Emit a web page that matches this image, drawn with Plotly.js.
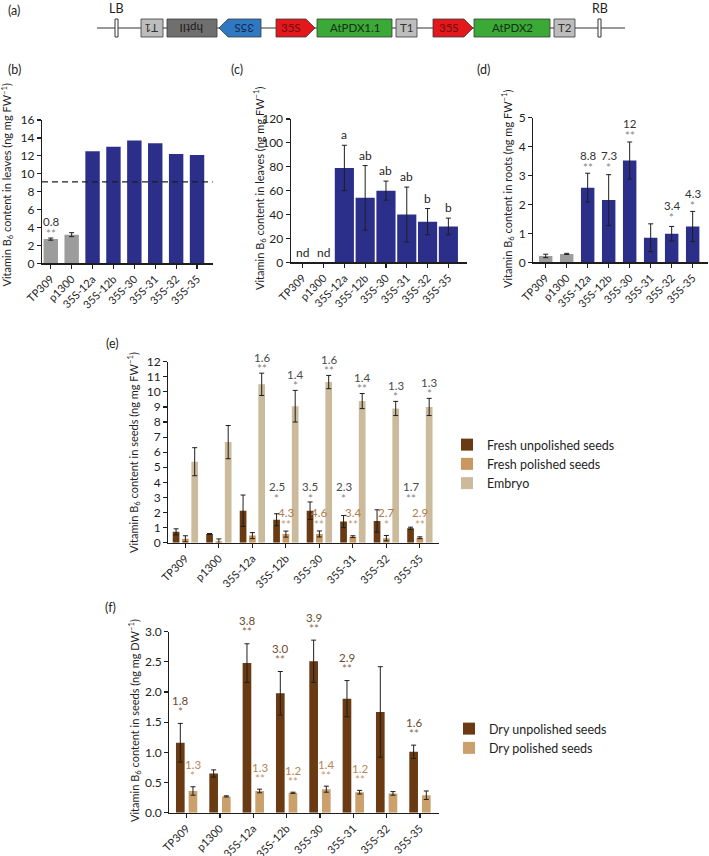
<!DOCTYPE html>
<html>
<head>
<meta charset="utf-8">
<script src="https://cdn.plot.ly/plotly-3.0.1.min.js"></script>
<style>html,body{margin:0;padding:0;background:#fff}</style>
</head>
<body>
<div id="fig" style="width:709px;height:856px"></div>
<script>
const W = 709, H = 856;
const FONT = 'Lato, "Open Sans", sans-serif';
const INK = '#1e1e1e';

const LINES = ['TP309', 'p1300', '35S-12a', '35S-12b', '35S-30', '35S-31', '35S-32', '35S-35'];

// (b) leaves, first assay
const leafB = [2.7, 3.2, 12.5, 13.0, 13.7, 13.4, 12.2, 12.1];
const leafBErr = [0.12, 0.22, null, null, null, null, null, null];
const leafBLine = 9.1;
const leafBFold = ['0.8', '', '', '', '', '', '', ''];
const leafBStars = ['**', '', '', '', '', '', '', ''];

// (c) leaves, second assay
const leafC = [0, 0, 79, 54, 60, 40, 34, 30];
const leafCErr = [null, null, 19, 27, 8, 23, 11, 7];
const leafCLetters = ['nd', 'nd', 'a', 'ab', 'ab', 'ab', 'b', 'b'];

// (d) roots
const roots = [0.22, 0.29, 2.58, 2.15, 3.52, 0.85, 0.99, 1.24];
const rootsErr = [0.06, 0.02, 0.5, 0.88, 0.64, 0.48, 0.25, 0.52];
const rootsFold = ['', '', '8.8', '7.3', '12', '', '3.4', '4.3'];
const rootsStars = ['', '', '**', '*', '**', '', '*', '*'];

// (e) fresh seeds
const freshUnpol = [0.72, 0.58, 2.12, 1.52, 2.12, 1.4, 1.44, 0.96];
const freshUnpolErr = [0.2, 0.03, 1.04, 0.4, 0.58, 0.4, 0.74, 0.07];
const freshPol = [0.26, 0.1, 0.47, 0.57, 0.58, 0.4, 0.3, 0.33];
const freshPolErr = [0.2, 0.15, 0.2, 0.2, 0.2, 0.06, 0.18, 0.06];
const embryo = [5.37, 6.67, 10.5, 9.05, 10.65, 9.39, 8.9, 9.0];
const embryoErr = [0.93, 1.1, 0.74, 1.05, 0.44, 0.5, 0.47, 0.57];
const freshUnpolFold = ['', '', '', '2.5', '3.5', '2.3', '', '1.7'];
const freshUnpolStars = ['', '', '', '*', '*', '*', '', '**'];
const freshPolFold = ['', '', '', '4.3', '4.6', '3.4', '2.7', '2.9'];
const freshPolStars = ['', '', '', '**', '**', '**', '*', '**'];
const embryoFold = ['', '', '1.6', '1.4', '1.6', '1.4', '1.3', '1.3'];
const embryoStars = ['', '', '**', '*', '**', '**', '*', '*'];

// (f) dry seeds
const dryUnpol = [1.16, 0.65, 2.48, 1.98, 2.51, 1.89, 1.67, 1.01];
const dryUnpolErr = [0.32, 0.06, 0.32, 0.36, 0.35, 0.3, 0.75, 0.11];
const dryPol = [0.36, 0.27, 0.36, 0.33, 0.39, 0.34, 0.32, 0.29];
const dryPolErr = [0.07, 0.01, 0.03, 0.01, 0.05, 0.03, 0.03, 0.07];
const dryUnpolFold = ['1.8', '', '3.8', '3.0', '3.9', '2.9', '', '1.6'];
const dryUnpolStars = ['*', '', '**', '**', '**', '**', '', '**'];
const dryPolFold = ['1.3', '', '1.3', '1.2', '1.4', '1.2', '', ''];
const dryPolStars = ['*', '', '**', '**', '**', '**', '', ''];

// construct map for (a), in page pixels
const construct = [
  {x0: 141, x1: 163, label: 'T1', kind: 'term', rev: true},
  {x0: 167, x1: 217, label: 'hptII', kind: 'marker', rev: true},
  {x0: 219, x1: 261, label: '35S', kind: 'promBlue', rev: true},
  {x0: 276, x1: 315, label: '35S', kind: 'promRed'},
  {x0: 317, x1: 392, label: 'AtPDX1.1', kind: 'gene'},
  {x0: 396, x1: 417, label: 'T1', kind: 'term'},
  {x0: 433, x1: 473, label: '35S', kind: 'promRed'},
  {x0: 474, x1: 550, label: 'AtPDX2', kind: 'gene'},
  {x0: 554, x1: 575, label: 'T2', kind: 'term'},
];
const borders = [{x: 116.5, label: 'LB'}, {x: 599.5, label: 'RB'}];

const NAVY = '#2b2f8a', GREY = '#9c9c9c';
const DARK = '#6a3a12', TAN = '#c9975f', BEIGE = '#cbbb9c', DRYTAN = '#caa06c';

const px = x => x / W;
const py = y => 1 - y / H;
const dom = (a, b) => [a / W, b / W];
const vdom = (top, bottom) => [1 - bottom / H, 1 - top / H];
const nan = arr => arr.map(v => v == null ? NaN : v);

function errY(arr) {
  return {type: 'data', array: nan(arr), visible: true, color: INK, thickness: 1, width: 2.5};
}

function bar(xa, ya, y, err, color, width, offset, extra) {
  return Object.assign({
    type: 'bar', x: LINES, y: y, xaxis: xa, yaxis: ya,
    width: width, offset: offset,
    marker: {color: color, line: {width: 0}},
    error_y: err ? errY(err) : undefined,
    showlegend: false, hoverinfo: 'x+y',
  }, extra || {});
}

const traces = [
  bar('x', 'y', leafB, leafBErr, LINES.map((_, i) => i < 2 ? GREY : NAVY), 0.69, -0.345),
  bar('x2', 'y2', leafC, leafCErr, NAVY, 0.92, -0.46),
  bar('x3', 'y3', roots, rootsErr, LINES.map((_, i) => i < 2 ? GREY : NAVY), 0.64, -0.32),
  bar('x4', 'y4', freshUnpol, freshUnpolErr, DARK, 0.2, -0.378,
    {name: 'Fresh unpolished seeds', showlegend: true, legend: 'legend'}),
  bar('x4', 'y4', freshPol, freshPolErr, TAN, 0.2, -0.1,
    {name: 'Fresh polished seeds', showlegend: true, legend: 'legend'}),
  bar('x4', 'y4', embryo, embryoErr, BEIGE, 0.2, 0.178,
    {name: 'Embryo', showlegend: true, legend: 'legend'}),
  bar('x5', 'y5', dryUnpol, dryUnpolErr, DARK, 0.26, -0.32,
    {name: 'Dry unpolished seeds', showlegend: true, legend: 'legend2'}),
  bar('x5', 'y5', dryPol, dryPolErr, DRYTAN, 0.26, 0.06,
    {name: 'Dry polished seeds', showlegend: true, legend: 'legend2'}),
];

const axisBase = {
  showline: true, linecolor: INK, linewidth: 1.2, ticks: 'outside', ticklen: 4,
  tickwidth: 1.2, tickcolor: INK, showgrid: false, zeroline: false,
  tickfont: {size: 12, color: INK}, fixedrange: true,
};
function xAxis(domain, anchor, range) {
  return Object.assign({}, axisBase, {
    type: 'category', domain: domain, anchor: anchor, range: range,
    tickangle: -45, tickfont: {size: 11, color: INK},
  });
}
function yAxis(domain, anchor, range, dtick, fmt) {
  return Object.assign({}, axisBase, {
    domain: domain, anchor: anchor, range: range, dtick: dtick, tick0: 0,
    tickformat: fmt || '',
  });
}

const annotations = [];
function note(xa, ya, x, y, text, opts) {
  annotations.push(Object.assign({
    xref: xa, yref: ya, x: x, y: y, text: text, showarrow: false,
    xanchor: 'center', yanchor: 'middle', font: {size: 12, color: '#333', family: FONT},
  }, opts));
}

// fold-change number and stars above each bar; top(i) is the error-bar top
function sigMarks(xa, ya, shift, fold, stars, top, s) {
  fold.forEach((f, i) => {
    const x = i + shift;
    const fixed = s.fixedStar != null;
    const base = fixed ? s.fixedStar : top(i);
    if (stars[i]) note(xa, ya, x, base, stars[i],
      {yshift: fixed ? 0 : s.starGap, font: {size: 11.5, color: s.starColor, family: FONT}});
    if (f) note(xa, ya, x, fixed ? s.fixedNum : base, f,
      {yshift: fixed ? 0 : s.starGap + s.numGap, font: {size: 11.5, color: s.numColor, family: FONT}});
  });
}
const topOf = (v, e) => i => v[i] + (e[i] || 0);

// (b)
sigMarks('x', 'y', 0, leafBFold, leafBStars, topOf(leafB, leafBErr),
  {starGap: 5, numGap: 12, numColor: '#333', starColor: '#8a8a8a'});
// (c) letters
leafCLetters.forEach((l, i) => {
  const f = {size: 12, color: INK, family: FONT};
  if (leafC[i] === 0) note('x2', 'y2', i, 0, l, {yanchor: 'bottom', yshift: 0, font: f});
  else note('x2', 'y2', i, leafC[i] + leafCErr[i], l, {yanchor: 'bottom', yshift: 1, font: f});
});
// (d) stars sit over the taller of this bar and the one to its left
const rootTop = i => Math.max(roots[i] + rootsErr[i], i > 0 ? roots[i - 1] + rootsErr[i - 1] : 0);
sigMarks('x3', 'y3', 0, rootsFold, rootsStars, rootTop,
  {starGap: 6, numGap: 12, numColor: '#333', starColor: '#858585'});
// (e)
sigMarks('x4', 'y4', -0.278, freshUnpolFold, freshUnpolStars, null,
  {fixedStar: 2.95, fixedNum: 3.72, numColor: '#4a4a4a', starColor: '#858585'});
sigMarks('x4', 'y4', 0, freshPolFold, freshPolStars, null,
  {fixedStar: 1.24, fixedNum: 1.99, numColor: '#b07b4c', starColor: '#c49a72'});
sigMarks('x4', 'y4', 0.278, embryoFold, embryoStars, topOf(embryo, embryoErr),
  {starGap: 5, numGap: 11, numColor: '#4a4a4a', starColor: '#858585'});
// (f)
sigMarks('x5', 'y5', -0.19, dryUnpolFold, dryUnpolStars, topOf(dryUnpol, dryUnpolErr),
  {starGap: 12, numGap: 11, numColor: '#6b4a2e', starColor: '#8a6a50'});
sigMarks('x5', 'y5', 0.19, dryPolFold, dryPolStars, topOf(dryPol, dryPolErr),
  {starGap: 11, numGap: 11, numColor: '#b5865a', starColor: '#c49a72'});

// panel letters
[['(a)', 14, 11], ['(b)', 15, 70], ['(c)', 237, 70], ['(d)', 483, 70], ['(e)', 112, 344], ['(f)', 110, 607]]
  .forEach(([t, x, y]) => note('paper', 'paper', px(x), py(y), t, {font: {size: 12.5, color: INK, family: FONT}}));

// y-axis titles
const VB = 'Vitamin B<sub>6</sub> content in ';
[[VB + 'leaves (ng mg FW<sup>\u22121</sup>)', 7.5, 185],
 [VB + 'leaves (ng mg FW<sup>\u22121</sup>)', 259, 189],
 [VB + 'roots (ng mg FW<sup>\u22121</sup>)', 507, 189],
 [VB + 'seeds (ng mg FW<sup>\u22121</sup>)', 134, 453],
 [VB + 'seeds (ng mg DW<sup>\u22121</sup>)', 134, 721]]
  .forEach(([t, x, y]) => note('paper', 'paper', px(x), py(y), t,
    {textangle: -90, font: {size: 11, color: INK, family: FONT}}));

// construct (a)
const BOX_T = 19, BOX_B = 37, MID = 28, TIP = 9;
const fills = {term: '#bdbdbd', marker: '#6f6f6f', promBlue: '#2f78c2', promRed: '#e3181d', gene: '#3aa935'};
const textCol = {term: '#333', marker: '#1c1c1c', promBlue: '#13284f', promRed: '#6e0b0b', gene: '#153015'};
const shapes = [
  {type: 'line', xref: 'paper', yref: 'paper', x0: px(97), x1: px(625), y0: py(MID), y1: py(MID),
   line: {color: '#333', width: 1}},
  {type: 'line', xref: 'x domain', yref: 'y', x0: 0, x1: 1, y0: leafBLine, y1: leafBLine,
   line: {color: INK, width: 1.3, dash: '6px,4px'}, layer: 'above'},
];
borders.forEach(b => {
  shapes.push({type: 'rect', xref: 'paper', yref: 'paper', x0: px(b.x - 1.5), x1: px(b.x + 1.5),
    y0: py(BOX_B), y1: py(BOX_T), fillcolor: '#fff', line: {color: '#333', width: 1}});
  note('paper', 'paper', px(b.x), py(8), b.label, {font: {size: 12.5, color: INK, family: FONT}});
});
construct.forEach(p => {
  const isArrow = p.kind.startsWith('prom');
  let path, cx = (p.x0 + p.x1) / 2;
  if (isArrow && p.rev) {
    path = `M${px(p.x0)},${py(MID)} L${px(p.x0 + TIP)},${py(BOX_T)} L${px(p.x1)},${py(BOX_T)} ` +
           `L${px(p.x1)},${py(BOX_B)} L${px(p.x0 + TIP)},${py(BOX_B)} Z`;
    cx = (p.x0 + TIP + p.x1) / 2;
  } else if (isArrow) {
    path = `M${px(p.x0)},${py(BOX_T)} L${px(p.x1 - TIP)},${py(BOX_T)} L${px(p.x1)},${py(MID)} ` +
           `L${px(p.x1 - TIP)},${py(BOX_B)} L${px(p.x0)},${py(BOX_B)} Z`;
    cx = (p.x0 + p.x1 - TIP) / 2;
  } else {
    path = `M${px(p.x0)},${py(BOX_T)} L${px(p.x1)},${py(BOX_T)} L${px(p.x1)},${py(BOX_B)} L${px(p.x0)},${py(BOX_B)} Z`;
  }
  shapes.push({type: 'path', xref: 'paper', yref: 'paper', path: path,
    fillcolor: fills[p.kind], line: {color: '#3a3a3a', width: 0.8}});
  note('paper', 'paper', px(cx), py(MID), p.label,
    {textangle: p.rev ? 180 : 0, font: {size: 11.5, color: textCol[p.kind], family: FONT}});
});

const layout = {
  width: W, height: H, margin: {l: 0, r: 0, t: 0, b: 0},
  paper_bgcolor: '#fff', plot_bgcolor: 'rgba(0,0,0,0)',
  font: {family: FONT, color: INK},
  barmode: 'overlay',
  xaxis: xAxis(dom(42, 212.7), 'y', [-0.42, 7.75]),
  yaxis: yAxis(vdom(120, 263.3), 'x', [0, 16], 2),
  xaxis2: xAxis(dom(290.7, 467.3), 'y2', [-0.58, 7.91]),
  yaxis2: yAxis(vdom(119, 262.3), 'x2', [0, 120], 20),
  xaxis3: xAxis(dom(533.3, 708), 'y3', [-0.59, 7.73]),
  yaxis3: yAxis(vdom(117.7, 262.3), 'x3', [0, 5], 1),
  xaxis4: xAxis(dom(168.3, 439.3), 'y4', [-0.51, 7.58]),
  yaxis4: yAxis(vdom(361.7, 542.7), 'x4', [0, 12], 1),
  xaxis5: xAxis(dom(169.3, 439.3), 'y5', [-0.52, 7.58]),
  yaxis5: yAxis(vdom(631.7, 812.7), 'x5', [0, 3], 0.5, '.1f'),
  legend: {x: px(447), y: py(430), xanchor: 'left', yanchor: 'top', bgcolor: 'rgba(0,0,0,0)',
    font: {size: 12.5, color: INK}, tracegroupgap: 0},
  legend2: {x: px(449), y: py(714), xanchor: 'left', yanchor: 'top', bgcolor: 'rgba(0,0,0,0)',
    font: {size: 12.5, color: INK}, tracegroupgap: 0},
  shapes: shapes,
  annotations: annotations,
  showlegend: true,
};

Plotly.newPlot('fig', traces, layout, {displayModeBar: false, staticPlot: true});
</script>
</body>
</html>
